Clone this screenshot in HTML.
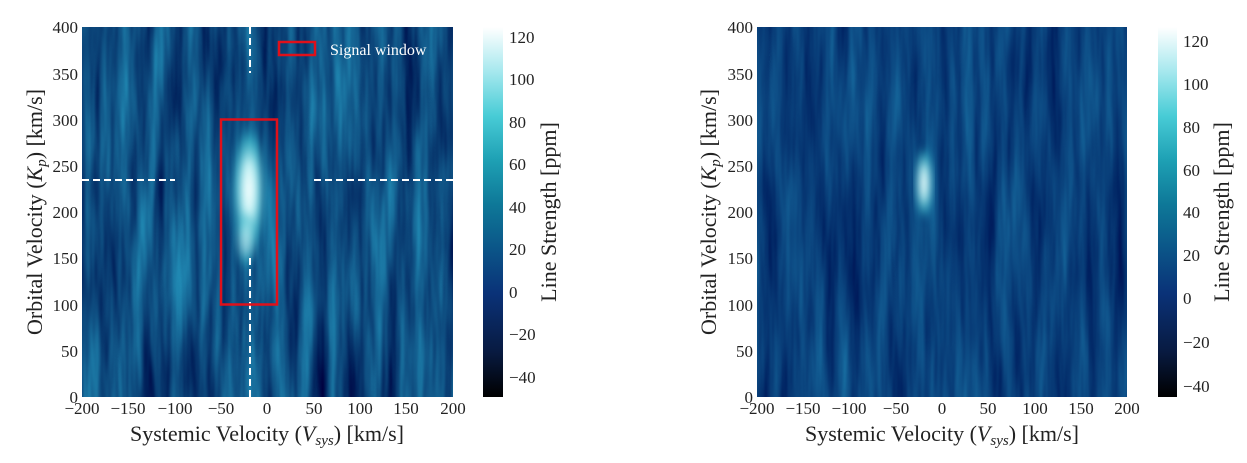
<!DOCTYPE html>
<html><head><meta charset="utf-8"><style>
body{margin:0;background:#fff;}
svg text{font-family:"Liberation Serif","DejaVu Serif",serif;fill:#222;}
</style></head><body>
<svg width="1247" height="458" viewBox="0 0 1247 458" xmlns="http://www.w3.org/2000/svg">
<defs>
<filter id="nL" x="0" y="0" width="100%" height="100%" color-interpolation-filters="sRGB">
<feTurbulence type="fractalNoise" baseFrequency="0.07 0.006" numOctaves="3" seed="3"/>
<feColorMatrix type="matrix" values="0.2 0 0 0 -0.045  0.65 0 0 0 -0.02  0.55 0 0 0 0.23  0 0 0 0 1"/>
</filter>
<filter id="nR" x="0" y="0" width="100%" height="100%" color-interpolation-filters="sRGB">
<feTurbulence type="fractalNoise" baseFrequency="0.08 0.006" numOctaves="3" seed="7"/>
<feColorMatrix type="matrix" values="0.12 0 0 0 -0.025  0.38 0 0 0 0.06  0.32 0 0 0 0.32  0 0 0 0 1"/>
</filter>
<filter id="bl" color-interpolation-filters="sRGB"><feGaussianBlur stdDeviation="4"/></filter>
<filter id="bl2" color-interpolation-filters="sRGB"><feGaussianBlur stdDeviation="10"/></filter>
<radialGradient id="spot"><stop offset="0" stop-color="#fff"/><stop offset="0.4" stop-color="#c8f4f6"/><stop offset="0.75" stop-color="#40c0d0" stop-opacity="0.7"/><stop offset="1" stop-color="#1a8ab0" stop-opacity="0"/></radialGradient>
<radialGradient id="glow"><stop offset="0" stop-color="#2a9cc0" stop-opacity="0.6"/><stop offset="1" stop-color="#1a7aa8" stop-opacity="0"/></radialGradient>
<linearGradient id="cb" x1="0" y1="1" x2="0" y2="0">
<stop offset="0" stop-color="#000"/><stop offset="0.12" stop-color="#081a40"/><stop offset="0.28" stop-color="#0a3278"/><stop offset="0.4" stop-color="#0b5588"/><stop offset="0.52" stop-color="#0e7898"/><stop offset="0.64" stop-color="#1ea0b4"/><stop offset="0.76" stop-color="#48ccd6"/><stop offset="0.88" stop-color="#a6e8ee"/><stop offset="1" stop-color="#fff"/>
</linearGradient>
<clipPath id="cL"><rect x="82" y="27" width="371" height="370"/></clipPath>
<clipPath id="cR"><rect x="757" y="27" width="370" height="370"/></clipPath>
</defs>

<!-- LEFT -->
<g clip-path="url(#cL)">
<rect x="82" y="27" width="371" height="370" filter="url(#nL)"/>
<ellipse cx="249" cy="200" rx="28" ry="150" fill="url(#glow)" filter="url(#bl2)"/>
<ellipse cx="249" cy="190" rx="17" ry="68" fill="url(#spot)" filter="url(#bl)"/>
<ellipse cx="246" cy="240" rx="11" ry="30" fill="url(#spot)" filter="url(#bl)" opacity="0.6"/>
</g>
<g stroke="#fff" stroke-width="2" stroke-dasharray="7,4" fill="none">
<line x1="250" y1="27" x2="250" y2="73"/><line x1="250" y1="258" x2="250" y2="397"/>
<line x1="82" y1="180" x2="175" y2="180"/><line x1="314" y1="180" x2="453" y2="180"/>
</g>
<rect x="221" y="119.5" width="56" height="185" fill="none" stroke="#e0101a" stroke-width="2.5"/>
<rect x="279" y="42" width="36" height="13" fill="none" stroke="#e0101a" stroke-width="2.5"/>
<text x="330" y="55" font-size="16" style="fill:#fff">Signal window</text>
<rect x="483" y="27" width="20" height="370" fill="url(#cb)"/>
<g font-size="17">
<text x="509" y="43">120</text><text x="509" y="85">100</text><text x="509" y="128">80</text><text x="509" y="170">60</text><text x="509" y="213">40</text><text x="509" y="255">20</text><text x="509" y="298">0</text><text x="509" y="340">−20</text><text x="509" y="383">−40</text>
</g>
<text transform="translate(556,212) rotate(-90)" text-anchor="middle" font-size="22">Line Strength [ppm]</text>
<g font-size="17" text-anchor="end">
<text x="78" y="33">400</text><text x="78" y="80">350</text><text x="78" y="126">300</text><text x="78" y="172">250</text><text x="78" y="218">200</text><text x="78" y="264">150</text><text x="78" y="311">100</text><text x="78" y="357">50</text><text x="78" y="403">0</text>
</g>
<g font-size="17" text-anchor="middle">
<text x="82" y="414">−200</text><text x="128" y="414">−150</text><text x="175" y="414">−100</text><text x="221" y="414">−50</text><text x="267" y="414">0</text><text x="314" y="414">50</text><text x="360" y="414">100</text><text x="406" y="414">150</text><text x="453" y="414">200</text>
</g>
<text x="267" y="441" text-anchor="middle" font-size="22">Systemic Velocity (<tspan font-style="italic">V</tspan><tspan font-style="italic" font-size="15" dy="4">sys</tspan><tspan dy="-4">) [km/s]</tspan></text>
<text transform="translate(42,212) rotate(-90)" text-anchor="middle" font-size="22">Orbital Velocity (<tspan font-style="italic">K</tspan><tspan font-style="italic" font-size="15" dy="4">p</tspan><tspan dy="-4">) [km/s]</tspan></text>

<!-- RIGHT -->
<g clip-path="url(#cR)">
<rect x="757" y="27" width="370" height="370" filter="url(#nR)"/>
<ellipse cx="925" cy="210" rx="22" ry="140" fill="url(#glow)" filter="url(#bl2)" opacity="0.6"/>
<ellipse cx="924" cy="183" rx="9" ry="38" fill="url(#spot)" filter="url(#bl)"/>
</g>
<rect x="1158" y="27" width="19" height="370" fill="url(#cb)"/>
<g font-size="17">
<text x="1183" y="47">120</text><text x="1183" y="90">100</text><text x="1183" y="133">80</text><text x="1183" y="176">60</text><text x="1183" y="218">40</text><text x="1183" y="261">20</text><text x="1183" y="304">0</text><text x="1183" y="348">−20</text><text x="1183" y="392">−40</text>
</g>
<text transform="translate(1229,212) rotate(-90)" text-anchor="middle" font-size="22">Line Strength [ppm]</text>
<g font-size="17" text-anchor="end">
<text x="753" y="33">400</text><text x="753" y="80">350</text><text x="753" y="126">300</text><text x="753" y="172">250</text><text x="753" y="218">200</text><text x="753" y="264">150</text><text x="753" y="311">100</text><text x="753" y="357">50</text><text x="753" y="403">0</text>
</g>
<g font-size="17" text-anchor="middle">
<text x="757" y="414">−200</text><text x="803" y="414">−150</text><text x="849" y="414">−100</text><text x="896" y="414">−50</text><text x="942" y="414">0</text><text x="988" y="414">50</text><text x="1035" y="414">100</text><text x="1081" y="414">150</text><text x="1127" y="414">200</text>
</g>
<text x="942" y="441" text-anchor="middle" font-size="22">Systemic Velocity (<tspan font-style="italic">V</tspan><tspan font-style="italic" font-size="15" dy="4">sys</tspan><tspan dy="-4">) [km/s]</tspan></text>
<text transform="translate(716,212) rotate(-90)" text-anchor="middle" font-size="22">Orbital Velocity (<tspan font-style="italic">K</tspan><tspan font-style="italic" font-size="15" dy="4">p</tspan><tspan dy="-4">) [km/s]</tspan></text>
</svg>
</body></html>
